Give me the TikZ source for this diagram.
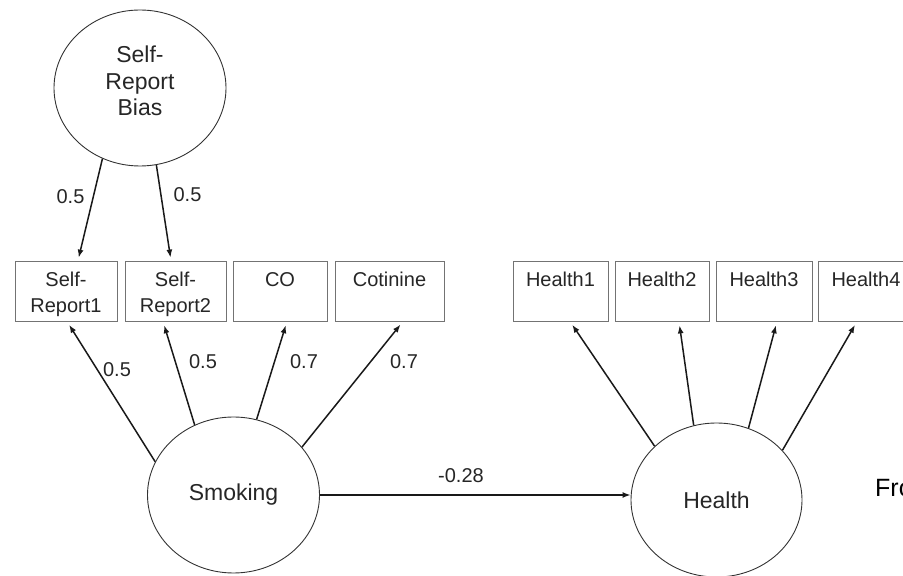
\documentclass[tikz,border=0pt]{standalone}
\usepackage{fontspec}
\setmainfont{Liberation Sans}
\usetikzlibrary{shapes.geometric,arrows.meta,calc}
\begin{document}
\begin{tikzpicture}[x=1pt,y=1pt,
  latent/.style={ellipse,draw=black!80,line width=0.9pt,minimum width=172pt,
    minimum height=156pt,inner sep=0pt,font=\fontsize{23}{26.5}\selectfont,text=black!85},
  indicator/.style={rectangle,draw=black!55,line width=0.9pt,minimum height=60pt,
    inner sep=0pt,text height=26pt,text depth=34pt,
    font=\fontsize{20}{26}\selectfont,text=black!85},
  loading/.style={-{Latex[length=8pt,width=6pt]},line width=1.5pt,draw=black!90},
  coef/.style={font=\fontsize{20}{24}\selectfont,text=black!85,inner sep=0pt}]
\useasboundingbox (0,0) rectangle (903,576);

% latent variables
\node[latent] (bias) at (140,488)
  {\raisebox{4pt}[\height][\depth]{\begin{tabular}{@{}c@{}}Self-\\Report\\Bias\end{tabular}}};
\node[latent] (smk) at (233.5,81) {Smoking};
\node[latent,minimum width=171pt,minimum height=154pt] (hlth) at (716.5,76) {Health};

% smoking indicators
\node[indicator,minimum width=102pt] (b1) at (66,285)
  {\begin{tabular}[t]{@{}c@{}}Self-\\Report1\end{tabular}};
\node[indicator,minimum width=101pt] (b2) at (175.5,285)
  {\begin{tabular}[t]{@{}c@{}}Self-\\Report2\end{tabular}};
\node[indicator,minimum width=94pt] (b3) at (280,285) {CO};
\node[indicator,minimum width=109pt] (b4) at (389.5,285) {Cotinine};

% health indicators
\node[indicator,minimum width=95pt] (h1) at (560.5,285) {Health1};
\node[indicator,minimum width=94pt] (h2) at (662,285) {Health2};
\node[indicator,minimum width=96pt] (h3) at (764,285) {Health3};
\node[indicator,minimum width=96pt] (h4) at (866,285) {Health4};

% self-report bias loadings
\draw[loading,shorten >=3pt] (bias.242) -- ($(b1.north)+(12,0)$);
\draw[loading,shorten >=3pt] (bias.282) -- ($(b2.north)+(-4.5,0)$);
\node[coef] (l1) at (70.5,379.5) {0.5};
\node[coef] (l2) at (187.5,381.5) {0.5};

% smoking loadings
\draw[loading,shorten >=4pt] (smk.157) -- ($(b1.south)+(1,0)$);
\draw[loading,shorten >=4pt] (smk.119) -- ($(b2.south)+(-12.5,0)$);
\draw[loading,shorten >=4pt] (smk.73) -- ($(b3.south)+(7,0)$);
\draw[loading,shorten >=4pt] (smk.35) -- ($(b4.south)+(13.5,0)$);
\node[coef] (s1) at (117,206) {0.5};
\node[coef] (s2) at (203,214) {0.5};
\node[coef] (s3) at (304,214) {0.7};
\node[coef] (s4) at (404,214) {0.7};

% health loadings
\draw[loading,shorten >=4pt] (hlth.139) -- ($(h1.south)+(9.5,0)$);
\draw[loading,shorten >=4pt] (hlth.107) -- ($(h2.south)+(17,0)$);
\draw[loading,shorten >=4pt] (hlth.66) -- ($(h3.south)+(13,0)$);
\draw[loading,shorten >=4pt] (hlth.37) -- ($(h4.south)+(-9,0)$);

% structural path
\draw[loading] (smk.east) -- (smk.east -| hlth.west);
\node[coef] (p1) at (461,100) {-0.28};

\node[anchor=base west,inner sep=0pt,font=\fontsize{25}{30}\selectfont] (src) at (875,79) {Fro};
\end{tikzpicture}
\end{document}
